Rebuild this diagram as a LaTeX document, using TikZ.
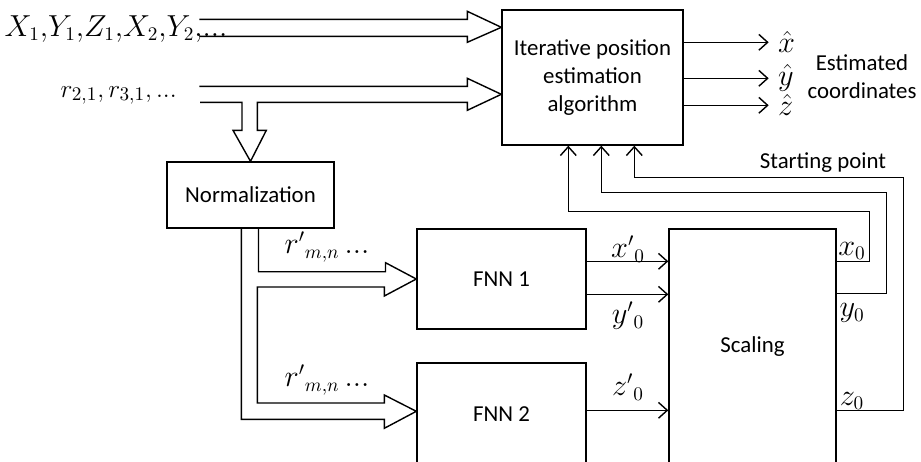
\documentclass[tikz,border=0pt]{standalone}
\usepackage{amsmath}
\usepackage{fontspec}
\setmainfont{Carlito}
\usetikzlibrary{positioning, arrows.meta, calc}

\newcommand{\blockfont}{\fontsize{13}{16}\selectfont}
\newcommand{\labfont}{\fontsize{16}{19}\selectfont}
\newcommand{\tdots}{{.}{.}{.}}

\tikzset{
  block/.style={draw, rectangle, font=\blockfont, align=center, inner sep=0pt},
  sig/.style={-{Straight Barb[length=5pt,width=9pt]}},
  mlab/.style={font=\labfont, inner sep=0pt},
}

\begin{document}
\begin{tikzpicture}[x=0.02cm, y=-0.02cm, line width=0.8pt]
    \useasboundingbox (0,0) rectangle (921,461);

    % blocks
    \node[block, minimum width=3.62cm, minimum height=2.7cm] (algo) at (592.5,77.5) {Iterative position\\estimation\\algorithm};
    \node[block, minimum width=3.34cm, minimum height=1.32cm] (norm) at (250.5,195) {Normalization};
    \node[block, minimum width=3.38cm, minimum height=2cm] (fnn1) at (501.5,279) {FNN 1};
    \node[block, minimum width=3.38cm, minimum height=2.04cm] (fnn2) at (501.5,414) {FNN 2};
    \node[block, minimum width=3.34cm, minimum height=4.72cm] (scale) at (752.5,347) {Scaling};

    % inputs
    \node[mlab, anchor=base west] (xyz) at (4,36) {$X_1{,}Y_1{,}Z_1{,}X_2{,}Y_2{,}\tdots$};
    \node[mlab, font=\fontsize{15}{18}\selectfont, anchor=base west] (rr) at (60,97) {$r_{2,1}{,}\,r_{3,1}{,}\,\tdots$};

    % hollow arrows
    \coordinate (tipA) at ($(algo.north west)+(0,18)$);
    \coordinate (tipB) at ($(algo.north west)+(0,85)$);
    \coordinate (tipD) at ($(fnn2.north west)+(0,49)$);
    \draw (tipA) -- ++(-34,-16) -- ++(0,8) -- ++(-268,0);
    \draw (tipA) -- ++(-34,15) -- ++(0,-6) -- ++(-268,0);
    \draw (tipB) -- ++(-34,-16) -- ++(0,8) -- ++(-268,0);
    \draw (tipB) -- ++(-34,16) -- ++(0,-8) -- ++(-210,0) -- ++(0,28) -- ++(9,0)
        -- (norm.north) -- ++(-17.5,-31) -- ++(9,0) -- ++(0,-28) -- ++(-42,0);
    \draw ($(norm.south)+(8,0)$) -- ++(0,43) -- ++(127,0) -- ++(0,-9) -- (fnn1.west)
        -- ++(-32,17) -- ++(0,-9) -- ++(-127,0) -- ++(0,116) -- ++(127,0) -- ++(0,-8)
        -- (tipD) -- ++(-32,17) -- ++(0,-9) -- ++(-143,0) -- ++(0,-192);
    \node[mlab] (r1) at (327,247) {$r'{}_{m,n}\,\tdots$};
    \node[mlab] (r2) at (327,380) {$r'{}_{m,n}\,\tdots$};

    % outputs
    \draw[sig] ($(algo.north east)+(0,33)$) -- ++(85,0) node[mlab, right=5pt] (xh) {$\hat{x}$};
    \draw[sig] ($(algo.north east)+(0,69)$) -- ++(85,0) node[mlab, right=5pt] (yh) {$\hat{y}$};
    \draw[sig] ($(algo.north east)+(0,96)$) -- ++(85,0) node[mlab, right=5pt] (zh) {$\hat{z}$};
    \node[font=\blockfont, align=center, inner sep=0pt] (est) at (862,77) {Estimated\\coordinates};

    % fnn to scaling
    \coordinate (o1) at ($(fnn1.north east)+(0,33)$);
    \coordinate (o2) at ($(fnn1.north east)+(0,66)$);
    \coordinate (o3) at ($(fnn2.north east)+(0,48)$);
    \draw[sig] (o1) -- (o1 -| scale.west);
    \draw[sig] (o2) -- (o2 -| scale.west);
    \draw[sig] (o3) -- (o3 -| scale.west);
    \node[mlab] (xp) at (628,249) {$x'{}_0$};
    \node[mlab] (yp) at (628,316) {$y'{}_0$};
    \node[mlab] (zp) at (628,387) {$z'{}_0$};

    % starting point feedback
    \draw[sig] ($(scale.north east)+(0,33)$) -- ++(33,0) -- ++(0,-50) -| ($(algo.south west)+(67,0)$);
    \draw[sig] ($(scale.north east)+(0,65)$) -- ++(50,0) -- ++(0,-101) -| ($(algo.south west)+(100,0)$);
    \draw[sig] ($(scale.north east)+(0,182)$) -- ++(67,0) -- ++(0,-233) -| ($(algo.south west)+(133,0)$);
    \node[mlab] (x0) at (852,251) {$x_0$};
    \node[mlab] (y0) at (852,313) {$y_0$};
    \node[mlab] (z0) at (852,401) {$z_0$};
    \node[font=\blockfont, inner sep=0pt] (sp) at (823,163) {Starting point};
\end{tikzpicture}
\end{document}
